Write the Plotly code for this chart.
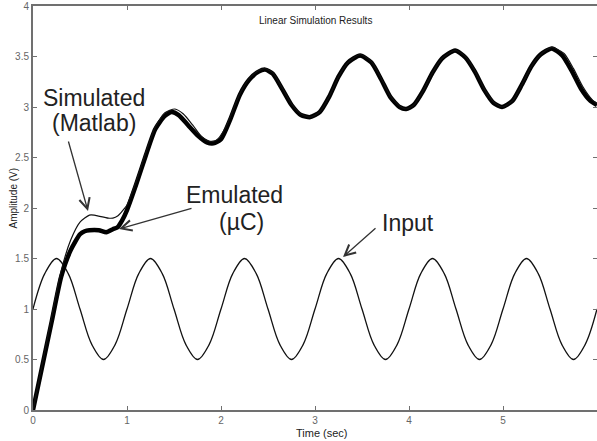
import plotly.graph_objects as go

# ---- data ----
t_input = [0, 0.125, 0.25, 0.375, 0.5, 0.625, 0.75, 0.875,
           1, 1.125, 1.25, 1.375, 1.5, 1.625, 1.75, 1.875,
           2, 2.125, 2.25, 2.375, 2.5, 2.625, 2.75, 2.875,
           3, 3.125, 3.25, 3.375, 3.5, 3.625, 3.75, 3.875,
           4, 4.125, 4.25, 4.375, 4.5, 4.625, 4.75, 4.875,
           5, 5.125, 5.25, 5.375, 5.5, 5.625, 5.75, 5.875, 6]
v_input = [1, 1.35, 1.5, 1.35, 1, 0.65, 0.5, 0.65,
           1, 1.35, 1.5, 1.35, 1, 0.65, 0.5, 0.65,
           1, 1.35, 1.5, 1.35, 1, 0.65, 0.5, 0.65,
           1, 1.35, 1.5, 1.35, 1, 0.65, 0.5, 0.65,
           1, 1.35, 1.5, 1.35, 1, 0.65, 0.5, 0.65,
           1, 1.35, 1.5, 1.35, 1, 0.65, 0.5, 0.65, 1]

t_emu = [0, 0.1, 0.2, 0.3, 0.4, 0.5, 0.55, 0.6, 0.7, 0.78, 0.85, 0.9, 0.95,
         1.0, 1.1, 1.2, 1.3, 1.4, 1.475, 1.55, 1.65, 1.75, 1.85, 1.92,
         2.0, 2.1, 2.2, 2.3, 2.4, 2.47, 2.55, 2.65, 2.75, 2.85, 2.95,
         3.05, 3.15, 3.25, 3.35, 3.48, 3.6, 3.7, 3.8, 3.9, 3.97,
         4.05, 4.15, 4.25, 4.35, 4.49, 4.6, 4.7, 4.8, 4.9, 4.99,
         5.1, 5.2, 5.3, 5.4, 5.52, 5.63, 5.73, 5.83, 5.93, 6.0]
v_emu = [0, 0.44, 0.88, 1.32, 1.58, 1.74, 1.77, 1.78, 1.78, 1.76, 1.79, 1.81, 1.88,
         1.98, 2.24, 2.52, 2.78, 2.91, 2.95, 2.92, 2.82, 2.72, 2.65, 2.64,
         2.68, 2.88, 3.12, 3.27, 3.35, 3.37, 3.33, 3.18, 3.02, 2.92, 2.90,
         2.95, 3.10, 3.30, 3.44, 3.51, 3.44, 3.28, 3.10, 3.00, 2.98,
         3.02, 3.16, 3.34, 3.48, 3.56, 3.49, 3.35, 3.17, 3.04, 3.00,
         3.06, 3.22, 3.40, 3.52, 3.58, 3.51, 3.36, 3.18, 3.06, 3.02]

t_sim = [0, 0.1, 0.2, 0.3, 0.4, 0.5, 0.6, 0.65, 0.7, 0.8, 0.85, 0.9, 0.95,
         1.0, 1.1, 1.2, 1.3, 1.4, 1.51, 1.6, 1.7, 1.8, 1.88, 1.95,
         2.05, 2.2, 2.3, 2.4, 2.47, 2.55, 2.65, 2.75, 2.85, 2.95,
         3.05, 3.15, 3.25, 3.35, 3.48, 3.6, 3.7, 3.8, 3.9, 3.97,
         4.05, 4.15, 4.25, 4.35, 4.49, 4.6, 4.7, 4.8, 4.9, 4.99,
         5.1, 5.2, 5.3, 5.4, 5.52, 5.65, 5.75, 5.85, 5.95, 6.0]
v_sim = [0, 0.46, 0.93, 1.38, 1.68, 1.86, 1.93, 1.93, 1.92, 1.90, 1.90, 1.92, 1.97,
         2.03, 2.27, 2.55, 2.80, 2.94, 2.98, 2.93, 2.82, 2.70, 2.66, 2.67,
         2.80, 3.13, 3.28, 3.36, 3.38, 3.34, 3.19, 3.03, 2.93, 2.90,
         2.95, 3.10, 3.30, 3.44, 3.52, 3.45, 3.29, 3.11, 3.01, 2.98,
         3.02, 3.16, 3.34, 3.48, 3.56, 3.50, 3.36, 3.18, 3.05, 3.00,
         3.06, 3.22, 3.40, 3.52, 3.59, 3.53, 3.38, 3.20, 3.07, 3.03]

x_ticks = [0, 1, 2, 3, 4, 5, 6]
y_ticks = [0, 0.5, 1, 1.5, 2, 2.5, 3, 3.5, 4]
y_tick_text = ["0", "0.5", "1", "1.5", "2", "2.5", "3", "3.5", "4"]

FONT = "Liberation Sans, Arial, sans-serif"
AX = "#707070"

fig = go.Figure()
fig.add_trace(go.Scatter(x=t_input, y=v_input, mode="lines",
                         line=dict(color="#111", width=1.3, shape="spline", smoothing=1.0),
                         name="Input"))
fig.add_trace(go.Scatter(x=t_emu, y=v_emu, mode="lines",
                         line=dict(color="#000", width=4.5, shape="spline", smoothing=0.6),
                         name="Emulated"))
fig.add_trace(go.Scatter(x=t_sim, y=v_sim, mode="lines",
                         line=dict(color="#111", width=1.2, shape="spline", smoothing=0.6),
                         name="Simulated"))

axis_common = dict(showline=True, linecolor=AX, linewidth=2, mirror="ticks",
                   ticks="inside", ticklen=4, tickcolor=AX, tickwidth=1,
                   showgrid=False, zeroline=False, automargin=False,
                   tickfont=dict(family=FONT, size=10, color="#666"))
fig.update_xaxes(range=[0, 6], tickvals=x_ticks, **axis_common)
fig.update_yaxes(range=[0, 4], tickvals=y_ticks, ticktext=y_tick_text, **axis_common)

def px2x(px):
    return (px - 33) / 94.0

def px2y(py):
    return (410 - py) / 101.0

ann = []
txt_font = dict(family=FONT, size=23, color="#222")
for text, px, py in [("Simulated", 94, 98), ("(Matlab)", 94, 123),
                     ("Emulated", 234, 195), ("(µC)", 241, 222),
                     ("Input", 408, 223)]:
    ann.append(dict(x=px2x(px), y=px2y(py), xref="x", yref="y", text=text,
                    showarrow=False, font=txt_font, xanchor="center", yanchor="middle"))
for (tx, ty, hx, hy) in [(68, 140, 88, 211), (193, 208, 119, 229), (377, 227, 343, 257)]:
    ann.append(dict(x=px2x(hx), y=px2y(hy), ax=px2x(tx), ay=px2y(ty),
                    xref="x", yref="y", axref="x", ayref="y", text="",
                    showarrow=True, arrowhead=5, arrowsize=1.6, arrowwidth=1.3,
                    arrowcolor="#333"))
ann.append(dict(x=0.5, y=(410 - 20) / 404.0, xref="paper", yref="paper",
                text="Linear Simulation Results", showarrow=False,
                font=dict(family=FONT, size=10, color="#222"), yanchor="middle"))
ann.append(dict(x=(322 - 33) / 564.0, y=-(433 - 410) / 404.0, xref="paper", yref="paper",
                text="Time (sec)", showarrow=False,
                font=dict(family=FONT, size=11, color="#222"), yanchor="middle"))
ann.append(dict(x=-(33 - 12.5) / 564.0, y=(410 - 198) / 404.0, xref="paper", yref="paper",
                text="Amplitude (V)", showarrow=False, textangle=-90,
                font=dict(family=FONT, size=10, color="#222"),
                xanchor="center", yanchor="middle"))

fig.update_layout(width=597, height=441,
                  margin=dict(l=33, r=0, t=6, b=31, autoexpand=False),
                  paper_bgcolor="white", plot_bgcolor="white",
                  showlegend=False, annotations=ann)

fig.write_html("out.html", config={"displayModeBar": False},
               post_script="document.body.style.margin='0';")
